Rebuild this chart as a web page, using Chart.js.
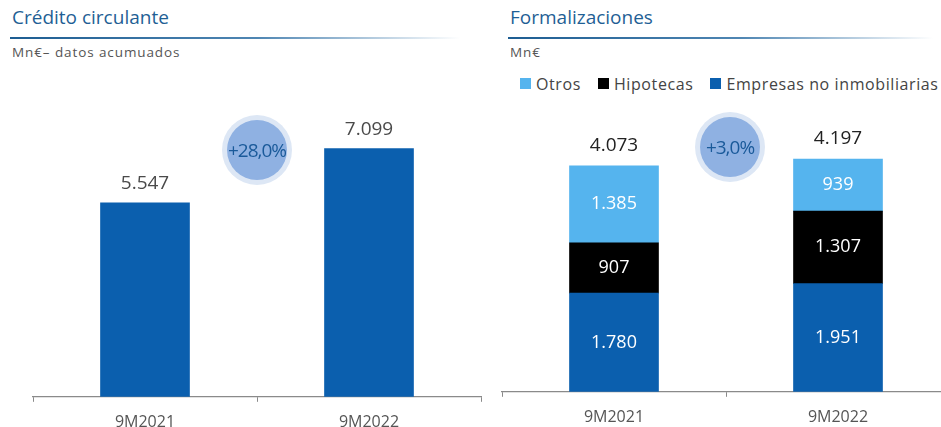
<!DOCTYPE html>
<html>
<head>
<meta charset="utf-8">
<script src="https://cdn.jsdelivr.net/npm/chart.js@4.4.0/dist/chart.umd.min.js"></script>
<style>
  html, body { margin: 0; padding: 0; background: #fff; }
  body { width: 941px; height: 427px; overflow: hidden; position: relative; font-family: "Open Sans", sans-serif; }
  .title { position: absolute; top: 4px; font-size: 19px; color: #1f5f95; }
  .rule { position: absolute; top: 37px; height: 2px; background: linear-gradient(to right, #1d5d92 0%, #4f86b3 55%, rgba(200,215,230,0) 100%); }
  .sub { position: absolute; top: 43px; font-size: 13.5px; color: #555; letter-spacing: 0.9px; white-space: nowrap; }
  .badge { position: absolute; width: 70px; height: 70px; border-radius: 50%; background: #dde7f5; }
  .badge span { position: absolute; left: 5px; top: 5px; width: 60px; height: 60px; border-radius: 50%; background: #8fb1e2;
    display: flex; align-items: center; justify-content: center; font-size: 19px; color: #1a5a9a; letter-spacing: -1px; white-space: nowrap; }
  .legend { position: absolute; top: 73px; left: 520px; width: 421px; white-space: nowrap; font-size: 16px; color: #444; letter-spacing: 0.6px; }
  .legend span { margin-right: 17px; }
  .legend i { display: inline-block; width: 11px; height: 11px; margin-right: 5px; vertical-align: 1px; }
  canvas { position: absolute; top: 0; }
</style>
</head>
<body>
<div class="title" style="left:12px">Crédito circulante</div>
<div class="rule" style="left:10px;width:450px"></div>
<div class="sub" style="left:12px">Mn€– datos acumuados</div>

<div class="title" style="left:510px">Formalizaciones</div>
<div class="rule" style="left:508px;width:425px"></div>
<div class="sub" style="left:510px">Mn€</div>
<div class="legend" id="legend"></div>

<div style="position:absolute;left:0;top:0;width:485px;height:443px"><canvas id="c1"></canvas></div>
<div style="position:absolute;left:470px;top:0;width:480px;height:443px"><canvas id="c2"></canvas></div>

<div class="badge" style="left:222px;top:115px"><span>+28,0%</span></div>
<div class="badge" style="left:695px;top:112px"><span>+3,0%</span></div>

<script>
const periodos = ['9M2021', '9M2022'];

// Crédito circulante (Mn€, acumulado)
const creditoCirculante = [5547, 7099];

// Formalizaciones (Mn€)
const empresasNoInmob = [1780, 1951];
const hipotecas = [907, 1307];
const otros = [1385, 939];
const totalFormalizaciones = [4073, 4197]; // total publicado (redondeo)

const azul = '#0b5fae';
const negro = '#000000';
const celeste = '#55b4ee';

const fmt = v => v.toLocaleString('de-DE');

// leyenda html a partir de las series
const series = [['Otros', celeste], ['Hipotecas', negro], ['Empresas no inmobiliarias', azul]];
document.getElementById('legend').innerHTML = series.map(s =>
  '<span><i style="background:' + s[1] + '"></i>' + s[0] + '</span>').join('');

const xAxis = {
  offset: true,
  border: { color: '#8a8a8a', width: 1.2 },
  grid: { drawOnChartArea: false, drawTicks: true, tickLength: 5, color: '#8a8a8a', offset: true },
  ticks: { color: '#555', font: { family: 'Open Sans', size: 16 }, padding: 11 }
};

// etiquetas de valores
const etiquetas = {
  id: 'etiquetas',
  afterDatasetsDraw(chart, args, opts) {
    const ctx = chart.ctx;
    ctx.save();
    ctx.textAlign = 'center';
    ctx.textBaseline = 'middle';
    if (opts.modo === 'simple') {
      const meta = chart.getDatasetMeta(0);
      meta.data.forEach((bar, i) => {
        ctx.font = '19px "Open Sans"';
        ctx.fillStyle = '#4a4a4a';
        ctx.fillText(fmt(chart.data.datasets[0].data[i]), bar.x, bar.y - 19);
      });
    } else {
      let tops = [];
      chart.data.datasets.forEach((ds, di) => {
        chart.getDatasetMeta(di).data.forEach((bar, i) => {
          ctx.font = '18px "Open Sans"';
          ctx.fillStyle = '#ffffff';
          ctx.fillText(fmt(ds.data[i]), bar.x, (bar.y + bar.base) / 2);
          if (tops[i] === undefined || bar.y < tops[i].y) tops[i] = { x: bar.x, y: bar.y };
        });
      });
      tops.forEach((t, i) => {
        ctx.font = '19px "Open Sans"';
        ctx.fillStyle = '#222';
        ctx.fillText(fmt(totalFormalizaciones[i]), t.x, t.y - 20);
      });
    }
    ctx.restore();
  }
};

new Chart(document.getElementById('c1'), {
  type: 'bar',
  data: {
    labels: periodos,
    datasets: [{ data: creditoCirculante, backgroundColor: azul, barThickness: 89 }]
  },
  options: {
    responsive: true, maintainAspectRatio: false, animation: false,
    layout: { padding: { left: 33, right: 4, top: 47, bottom: 0 } },
    plugins: { legend: { display: false }, tooltip: { enabled: false }, etiquetas: { modo: 'simple' } },
    scales: {
      x: xAxis,
      y: { display: false, min: 0, max: 10000 }
    }
  },
  plugins: [etiquetas]
});

new Chart(document.getElementById('c2'), {
  type: 'bar',
  data: {
    labels: periodos,
    datasets: [
      { label: 'Empresas no inmobiliarias', data: empresasNoInmob, backgroundColor: azul, barThickness: 89 },
      { label: 'Hipotecas', data: hipotecas, backgroundColor: negro, barThickness: 89 },
      { label: 'Otros', data: otros, backgroundColor: celeste, barThickness: 89 }
    ]
  },
  options: {
    responsive: true, maintainAspectRatio: false, animation: false,
    layout: { padding: { left: 32, right: 0, top: 59, bottom: 5 } },
    plugins: { legend: { display: false }, tooltip: { enabled: false }, etiquetas: { modo: 'stack' } },
    scales: {
      x: Object.assign({}, xAxis, { stacked: true }),
      y: { display: false, stacked: true, min: 0, max: 6000 }
    }
  },
  plugins: [etiquetas]
});
</script>
</body>
</html>
